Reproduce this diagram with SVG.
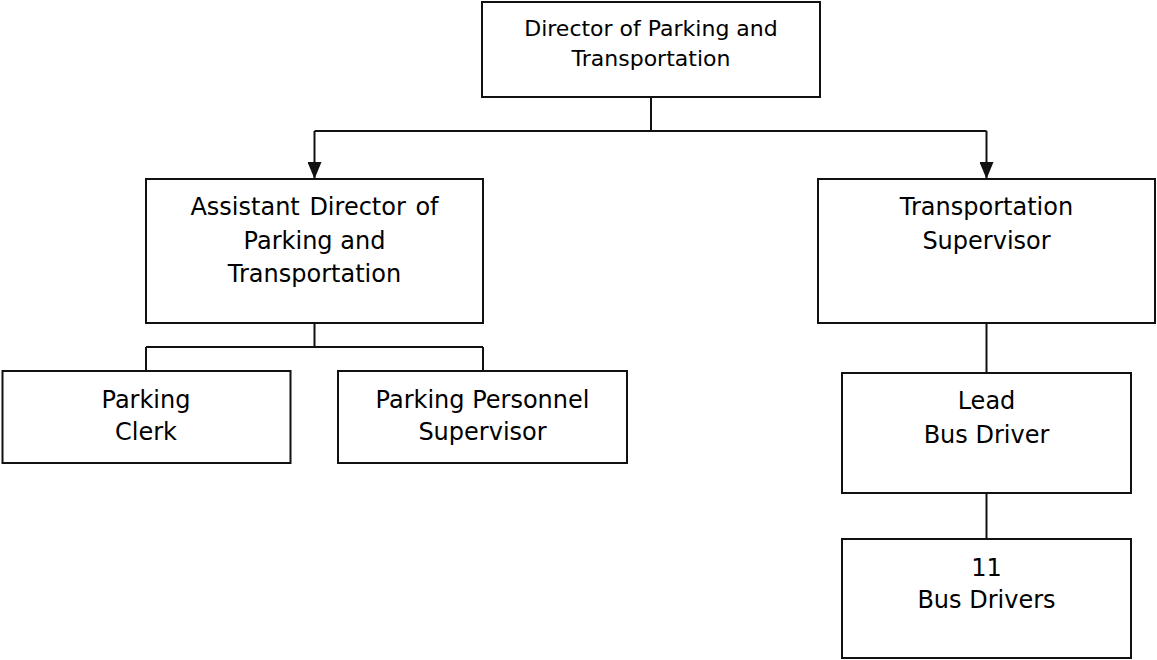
<svg xmlns="http://www.w3.org/2000/svg" width="1157" height="660" viewBox="0 0 1157 660">
  <style>
    .box { fill: #ffffff; stroke: #111111; stroke-width: 2; }
    .wire { fill: none; stroke: #111111; stroke-width: 2; }
    .label { font-family: "DejaVu Sans", "Liberation Sans", sans-serif; font-size: 24px; fill: #000000; text-anchor: middle; }
    .label.small { font-size: 22px; }
  </style>
  <defs>
    <!-- solid arrowhead pointing along the path direction -->
    <marker id="arrow" viewBox="0 0 17 14" refX="17" refY="7" markerWidth="17" markerHeight="14" markerUnits="userSpaceOnUse" orient="auto">
      <path d="M0,0 L17,7 L0,14 Z" fill="#111111"/>
    </marker>
  </defs>
  <rect width="1157" height="660" fill="#ffffff"/>

  <g id="director">
    <rect class="box" x="482" y="2" width="338" height="95"/>
    <text class="label small" x="651" y="36">Director of Parking and</text>
    <text class="label small" x="651" y="66">Transportation</text>
  </g>

  <g id="assistant-director">
    <rect class="box" x="146" y="179" width="337" height="144"/>
    <text class="label" x="314.5" y="215" word-spacing="2">Assistant Director of</text>
    <text class="label" x="314.5" y="249">Parking and</text>
    <text class="label" x="314.5" y="282">Transportation</text>
  </g>

  <g id="transportation-supervisor">
    <rect class="box" x="818" y="179" width="337" height="144"/>
    <text class="label" x="986.5" y="215">Transportation</text>
    <text class="label" x="986.5" y="249">Supervisor</text>
  </g>

  <g id="parking-clerk">
    <rect class="box" x="2.5" y="371" width="288" height="92"/>
    <text class="label" x="146" y="408">Parking</text>
    <text class="label" x="146" y="440">Clerk</text>
  </g>

  <g id="parking-personnel-supervisor">
    <rect class="box" x="338" y="371" width="289" height="92"/>
    <text class="label" x="482.5" y="408">Parking Personnel</text>
    <text class="label" x="482.5" y="440">Supervisor</text>
  </g>

  <g id="lead-bus-driver">
    <rect class="box" x="842" y="373" width="289" height="120"/>
    <text class="label" x="986.5" y="409">Lead</text>
    <text class="label" x="986.5" y="443">Bus Driver</text>
  </g>

  <g id="bus-drivers">
    <rect class="box" x="842" y="539" width="289" height="119"/>
    <text class="label" x="986.5" y="576">11</text>
    <text class="label" x="986.5" y="608">Bus Drivers</text>
  </g>

  <!-- connectors -->
  <g id="connectors">
    <path class="wire" d="M651,97 V131"/>
    <path class="wire" d="M314.5,131 H986.5"/>
    <path class="wire" d="M314.5,131 V179" marker-end="url(#arrow)"/>
    <path class="wire" d="M986.5,131 V179" marker-end="url(#arrow)"/>
    <path class="wire" d="M314.5,323 V347 M146,347 H483 M146,347 V371 M483,347 V371"/>
    <path class="wire" d="M986.5,323 V373"/>
    <path class="wire" d="M986.5,493 V539"/>
  </g>
</svg>
